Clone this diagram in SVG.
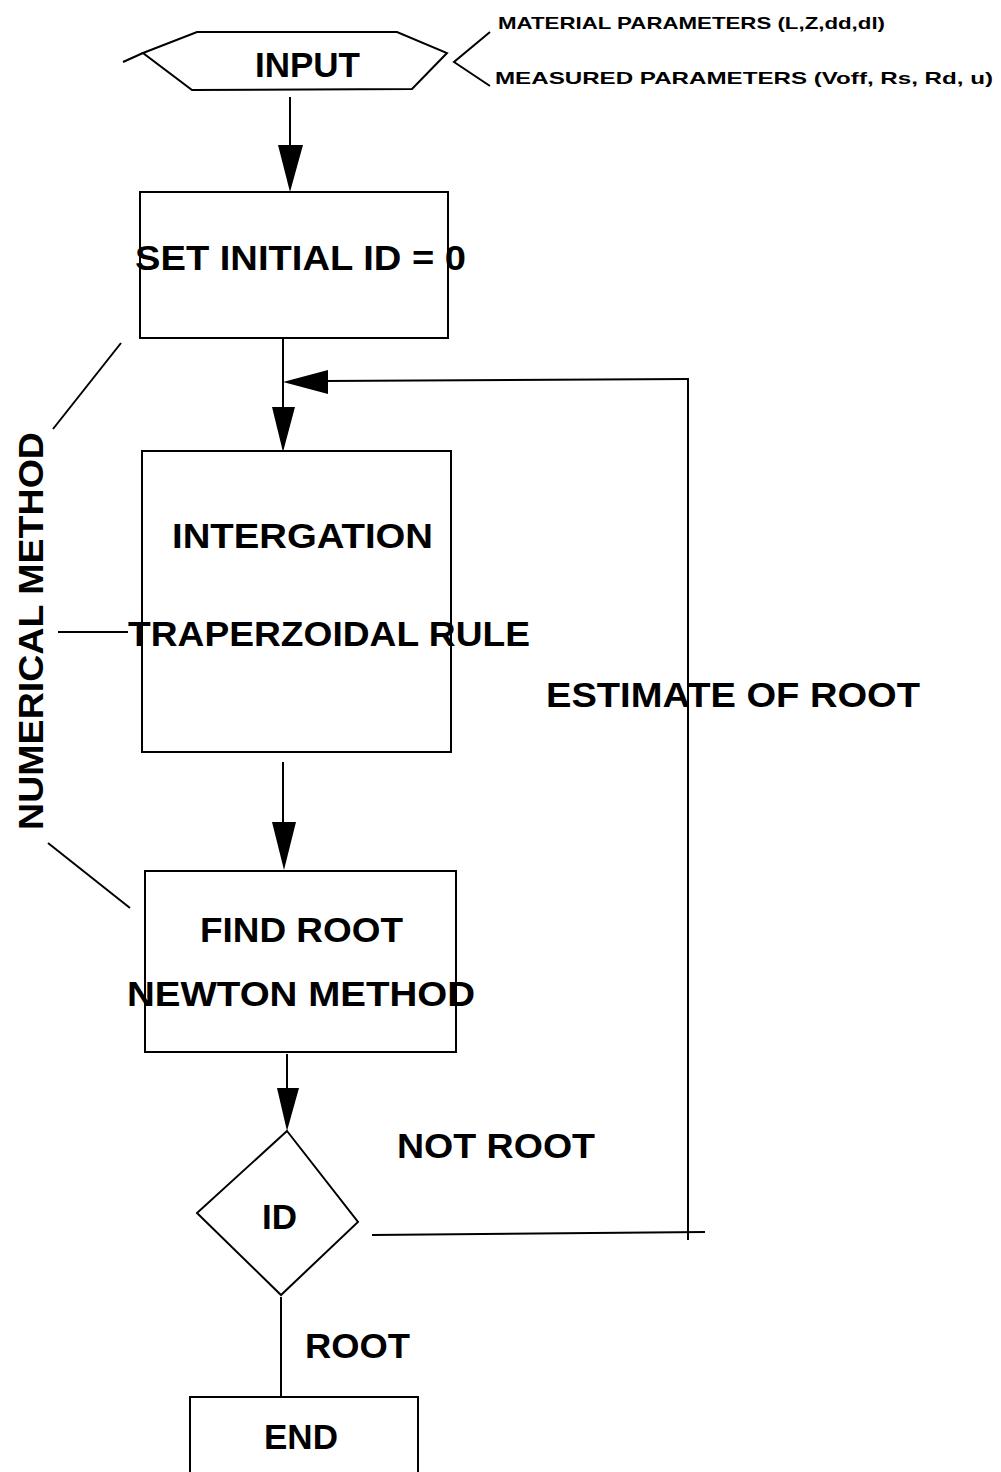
<svg xmlns="http://www.w3.org/2000/svg" width="1001" height="1472" viewBox="0 0 1001 1472">
<style>
.s{fill:none;stroke:#000;stroke-width:2}
.h{fill:#000;stroke:none}
.t{font-family:"Liberation Sans",Arial,sans-serif;font-weight:bold;font-size:35px;fill:#000}
.sm{font-family:"Liberation Sans",Arial,sans-serif;font-weight:bold;font-size:17px;fill:#000}
</style>
<rect width="1001" height="1472" fill="#fff"/>
<g id="connectors">
<line class="s" x1="290" y1="97" x2="290" y2="150"/>
<polygon class="h" points="278,145 303,145 290,192"/>
<line class="s" x1="283" y1="338" x2="283" y2="410"/>
<polygon class="h" points="272,407 295,407 283,452"/>
<polyline class="s" points="705,1232 372,1235"/>
<line class="s" x1="688" y1="378" x2="688" y2="1240"/>
<line class="s" x1="688" y1="379" x2="325" y2="381"/>
<polygon class="h" points="328,370 328,394 283,382"/>
<line class="s" x1="283" y1="762" x2="283" y2="825"/>
<polygon class="h" points="272,822 296,822 284,870"/>
<line class="s" x1="287" y1="1054" x2="287" y2="1092"/>
<polygon class="h" points="277,1088 299,1088 287,1131"/>
<line class="s" x1="281" y1="1297" x2="281" y2="1397"/>
<polyline class="s" points="490,32 454,62 490,86"/>
<line class="s" x1="121" y1="343" x2="53" y2="429"/>
<line class="s" x1="58" y1="632" x2="128" y2="632"/>
<line class="s" x1="48" y1="843" x2="130" y2="908"/>
</g>
<g id="input">
<polygon class="s" points="143,53 197,32 397,32 447,53 412,89 192,90"/>
<line class="s" x1="123" y1="62" x2="143" y2="53"/>
<text class="t" x="255" y="77" textLength="105" lengthAdjust="spacingAndGlyphs">INPUT</text>
</g>
<g id="params">
<text class="sm" x="498" y="29" textLength="387" lengthAdjust="spacingAndGlyphs">MATERIAL PARAMETERS (L,Z,dd,dl)</text>
<text class="sm" x="495" y="84" textLength="498" lengthAdjust="spacingAndGlyphs">MEASURED PARAMETERS (Voff, Rs, Rd, u)</text>
</g>
<g id="set-initial">
<rect class="s" x="140" y="192" width="308" height="146"/>
<text class="t" x="135" y="270" textLength="331" lengthAdjust="spacingAndGlyphs">SET INITIAL ID = 0</text>
</g>
<g id="integration">
<rect class="s" x="142" y="451" width="309" height="301"/>
<text class="t" x="172" y="548" textLength="261" lengthAdjust="spacingAndGlyphs">INTERGATION</text>
<text class="t" x="128" y="646" textLength="402" lengthAdjust="spacingAndGlyphs">TRAPERZOIDAL RULE</text>
</g>
<g id="estimate-label">
<text class="t" x="546" y="707" textLength="374" lengthAdjust="spacingAndGlyphs">ESTIMATE OF ROOT</text>
</g>
<g id="numerical-method">
<text class="t" x="0" y="0" transform="translate(43,830) rotate(-90)" textLength="398" lengthAdjust="spacingAndGlyphs">NUMERICAL METHOD</text>
</g>
<g id="find-root">
<rect class="s" x="145" y="871" width="311" height="181"/>
<text class="t" x="200" y="942" textLength="203" lengthAdjust="spacingAndGlyphs">FIND ROOT</text>
<text class="t" x="127" y="1006" textLength="348" lengthAdjust="spacingAndGlyphs">NEWTON METHOD</text>
</g>
<g id="decision">
<polygon class="s" points="287,1131 358,1222 281,1295 197,1213"/>
<text class="t" x="262" y="1229" textLength="35" lengthAdjust="spacingAndGlyphs">ID</text>
</g>
<g id="not-root-label">
<text class="t" x="397" y="1158" textLength="198" lengthAdjust="spacingAndGlyphs">NOT ROOT</text>
</g>
<g id="root-label">
<text class="t" x="305" y="1358" textLength="105" lengthAdjust="spacingAndGlyphs">ROOT</text>
</g>
<g id="end">
<rect class="s" x="190" y="1397" width="228" height="90"/>
<text class="t" x="264" y="1449" textLength="74" lengthAdjust="spacingAndGlyphs">END</text>
</g>
</svg>
